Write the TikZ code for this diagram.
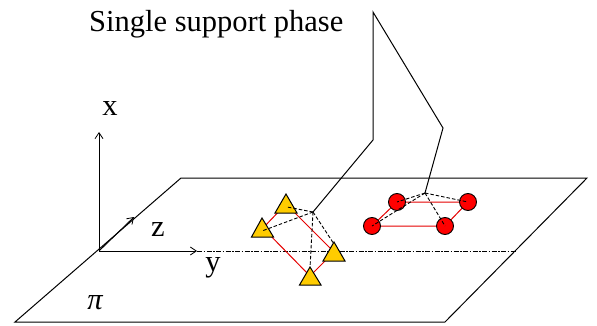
\documentclass[tikz,border=0pt]{standalone}
\usepackage{fontspec}
\setmainfont{Liberation Serif}
\usetikzlibrary{arrows.meta}
\definecolor{footyellow}{RGB}{255,204,0}
\tikzset{
  px/.style={x=1pt,y=-1pt},
  lbl/.style={inner sep=0pt,font=\fontsize{30.5}{33}\selectfont},
  axis/.style={line width=0.9pt,-{Straight Barb[length=6pt,width=8pt,line width=0.8pt]}},
  edge/.style={line width=1pt},
  redl/.style={red!90!black,line width=1pt},
  dsh/.style={line width=0.9pt,dash pattern=on 3.5pt off 2pt},
  tri/.style={fill=footyellow,draw=black,line width=1pt,line join=miter},
  ball/.style={circle,fill=red,draw=black,line width=0.9pt,minimum size=17pt,inner sep=0pt},
  pt/.style={inner sep=0pt,minimum size=0pt}
}
\begin{document}
\begin{tikzpicture}[px]
\useasboundingbox (0,0) rectangle (597,326);
% plane
\coordinate (p1) at (181,178);
\coordinate (p2) at (587,178);
\coordinate (p3) at (445,322);
\coordinate (p4) at (15,322);
\draw[edge] (p1) -- (p2) -- (p3) -- (p4) -- cycle;
% axes
\coordinate (o) at (99,251);
\coordinate (xe) at (99,132);
\coordinate (ye) at (197,251);
\coordinate (ze) at (134,217);
\coordinate (yf) at (516,251);
\draw[line width=0.8pt,dash pattern=on 5pt off 1.5pt on 1.5pt off 1.5pt] (ye) -- (yf);
\draw[axis] (o) -- (xe);
\draw[axis] (o) -- (ye);
\draw[axis] (o) -- (ze);
% legs
\coordinate (hip) at (373,12);
\coordinate (k1) at (373,140);
\coordinate (k2) at (443,128);
\coordinate (a1) at (313,212);
\coordinate (a2) at (425,193);
\draw[edge,line join=miter] (a1) -- (k1) -- (hip) -- (k2) -- (a2);
% feet, right
\node[pt] (c1) at (397,202) {};
\node[pt] (c2) at (468,202) {};
\node[pt] (c3) at (445,226) {};
\node[pt] (c4) at (372,226) {};
\draw[redl] (c1.center) -- (c2.center) -- (c3.center) -- (c4.center) -- cycle;
\node[ball] at (c1) {};
\node[ball] at (c2) {};
\node[ball] at (c3) {};
\node[ball] at (c4) {};
\foreach \c in {c1,c2,c3,c4} \draw[dsh] (a2) -- (\c.center);
% feet, left
\coordinate (t1) at (286,204);
\coordinate (t2) at (263,228);
\coordinate (t3) at (334,252);
\coordinate (t4) at (310,276);
\draw[redl] (t1) -- (t3) -- (t4) -- (t2) -- cycle;
\draw[tri] (286,194) -- (297,213) -- (275,213) -- cycle;
\draw[tri] (262,218) -- (273.5,237) -- (251.5,237) -- cycle;
\draw[tri] (334,242) -- (345,261) -- (323,261) -- cycle;
\draw[tri] (310,267) -- (321,285) -- (299.5,285) -- cycle;
\coordinate (d1) at (287,207);
\coordinate (d2) at (262,231);
\coordinate (d3) at (334,244);
\coordinate (d4) at (310,268);
\foreach \c in {d1,d2,d3,d4} \draw[dsh] (a1) -- (\c);
% labels
\node[lbl,anchor=base west] (title) at (89,32) {Single support phase};
\node[lbl,anchor=base] (lx) at (110,116) {x};
\node[lbl,anchor=base] (lz) at (158,236) {z};
\node[lbl,anchor=base] (ly) at (213,271) {y};
\node[lbl,anchor=base] (lpi) at (95,309) {\itshape π};
\end{tikzpicture}
\end{document}
